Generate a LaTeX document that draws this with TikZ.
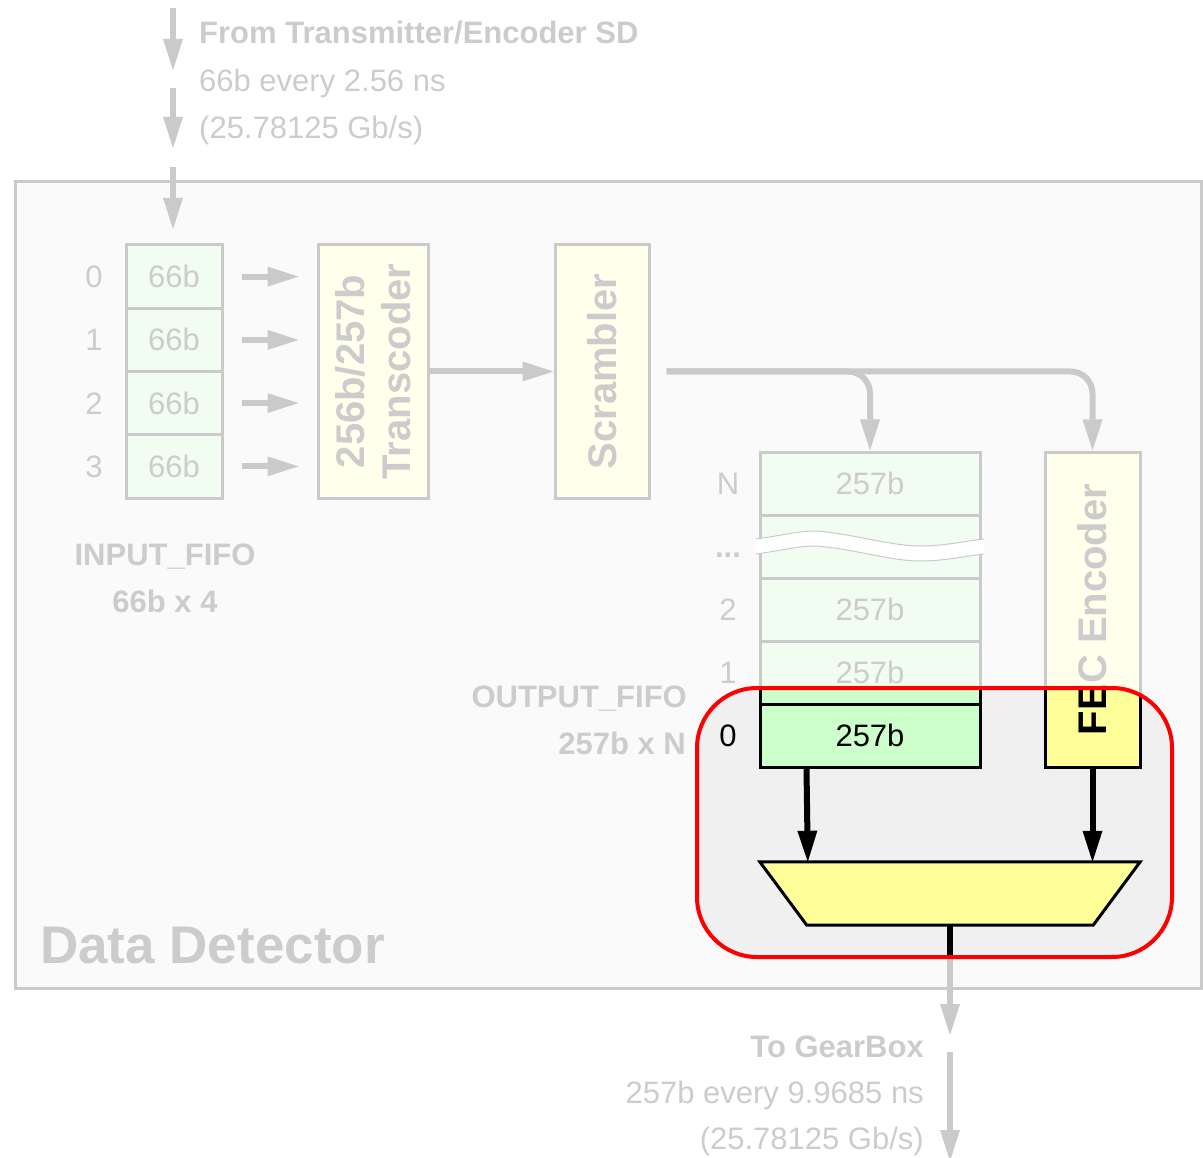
\documentclass[tikz,border=0pt]{standalone}
\usepackage{fontspec}
\setmainfont{Liberation Sans}
\usetikzlibrary{arrows.meta,calc}

\definecolor{fadeline}{RGB}{202,202,202}
\definecolor{fadetext}{RGB}{204,204,204}
\definecolor{panelbg}{RGB}{250,250,250}
\definecolor{fadegreen}{RGB}{242,253,242}
\definecolor{fadeyellow}{RGB}{255,255,235}
\definecolor{hlgreen}{RGB}{204,255,204}
\definecolor{hlyellow}{RGB}{255,255,153}
\definecolor{hlgrey}{RGB}{240,240,240}
\definecolor{hlred}{RGB}{255,0,0}

\newcommand\lblfont{\fontsize{31pt}{37pt}\selectfont}
\newcommand\boldlblfont{\fontsize{31pt}{37pt}\selectfont\bfseries}
\newcommand\blockfont{\fontsize{40pt}{46pt}\selectfont\bfseries}
\newcommand\ddtitlefont{\fontsize{53pt}{60pt}\selectfont\bfseries}

\begin{document}
\begin{tikzpicture}[x=1pt,y=-1pt,
  gtxt/.style={font=\lblfont, text=fadetext, inner sep=0pt},
  gbold/.style={font=\boldlblfont, text=fadetext, inner sep=0pt},
  idx/.style={font=\lblfont, text=fadetext, inner sep=0pt, text height=22pt, text depth=0pt},
  idxhl/.style={idx, text=black},
  incell/.style={draw=fadeline, line width=3pt, fill=fadegreen, minimum width=96pt,
    minimum height=63.25pt, inner sep=0pt, font=\lblfont, text=fadetext,
    text height=22pt, text depth=0pt},
  ocell/.style={incell, minimum width=220pt, minimum height=63pt},
  ocellhl/.style={ocell, draw=black, fill=hlgreen, text=black},
  fbox/.style={draw=fadeline, line width=3pt, fill=fadeyellow, inner sep=0pt},
  fboxhl/.style={fbox, draw=black, fill=hlyellow},
  rottxt/.style={font=\blockfont, text=fadetext, rotate=90, inner sep=0pt, align=center},
  rottxthl/.style={rottxt, text=black},
  gtip/.style={-{Triangle[length=31pt,width=20pt,line width=0pt]}},
  garrow/.style={draw=fadeline, line width=6pt, gtip},
  barrow/.style={draw=black, line width=6pt, gtip},
  breakedge/.style={draw=fadeline, line width=1pt}
]
\useasboundingbox (0,0) rectangle (1203,1158);

% ---------- Data Detector frame ----------
\node[draw=fadeline, line width=3pt, fill=panelbg, minimum width=1186pt,
      minimum height=806pt, inner sep=0pt] (panel) at (608,585) {};
\node[font=\ddtitlefont, text=fadetext, inner sep=0pt, anchor=base west] (ddtitle) at (40,963) {Data Detector};

% ---------- incoming stream ----------
\coordinate (ta) at (173,8);
\coordinate (tb) at (173,70);
\coordinate (tc1) at (173,88);
\coordinate (td) at (173,148);
\coordinate (te) at (173,167);
\coordinate (tf) at (173,229);
\draw[garrow] (ta) -- (tb);
\draw[garrow] (tc1) -- (td);
\draw[garrow] (te) -- (tf);
\node[gbold, anchor=base west] (src) at (199,44) {From Transmitter/Encoder SD};
\node[gtxt, anchor=base west] (srcrate) at (199,92) {66b every 2.56 ns};
\node[gtxt, anchor=base west] (srcbw) at (199,139) {(25.78125 Gb/s)};

% ---------- input FIFO ----------
\node[incell] (i0) at (174,276.6) {66b};
\node[incell] (i1) at (174,339.9) {66b};
\node[incell] (i2) at (174,403.1) {66b};
\node[incell] (i3) at (174,466.4) {66b};
\node[idx] (ni0) at (94,276.6) {0};
\node[idx] (ni1) at (94,339.9) {1};
\node[idx] (ni2) at (94,403.1) {2};
\node[idx] (ni3) at (94,466.4) {3};
\node[gbold, anchor=base] (inname) at (165,565) {INPUT\_FIFO};
\node[gbold, anchor=base] (insize) at (165,612) {66b x 4};

% ---------- transcoder and scrambler ----------
\node[fbox, minimum width=110pt, minimum height=253pt] (tc) at (373,371.5) {};
\node[rottxt] (tctext) at (tc.center) {256b/257b\\Transcoder};
\node[fbox, minimum width=94pt, minimum height=253pt] (sc) at (602,371.5) {};
\node[rottxt] (sctext) at (sc.center) {Scrambler};

\foreach \c in {i0,i1,i2,i3}
  \draw[garrow, shorten <=18pt, shorten >=18pt] (\c.east) -- (\c.east -| tc.west);
\draw[garrow] (tc.east) -- (sc.west);

% ---------- output FIFO ----------
\node[ocell] (oN) at (870,483.5) {257b};
\node[ocell] (og) at (870,546.5) {};
\node[ocell] (o2) at (870,609.5) {257b};
\node[ocell] (o1) at (870,672.5) {257b};
% break in the stack
\fill[white] (756,539) .. controls (785,535) and (798,531) .. (815,531)
  .. controls (850,533) and (890,546) .. (920,546)
  .. controls (945,546) and (965,541) .. (984,539)
  -- (984,554) .. controls (965,556) and (945,561) .. (920,561)
  .. controls (890,561) and (850,548) .. (815,546)
  .. controls (798,546) and (785,550) .. (756,554) -- cycle;
\draw[breakedge] (756,539) .. controls (785,535) and (798,531) .. (815,531)
  .. controls (850,533) and (890,546) .. (920,546)
  .. controls (945,546) and (965,541) .. (984,539);
\draw[breakedge] (756,554) .. controls (785,550) and (798,546) .. (815,546)
  .. controls (850,548) and (890,561) .. (920,561)
  .. controls (945,561) and (965,556) .. (984,554);
\node[idx] (noN) at (728,483.5) {N};
\node[idx, font=\boldlblfont] (nog) at (728,546.5) {...};
\node[idx] (no2) at (728,609.5) {2};
\node[idx] (no1) at (728,672.5) {1};
\node[gbold, anchor=base east] (outname) at (687,707) {OUTPUT\_FIFO};
\node[gbold, anchor=base east] (outsize) at (686,754) {257b x N};

% ---------- FEC encoder ----------
\node[fbox, minimum width=95pt, minimum height=315pt] (fec) at (1092.5,609.5) {};
\node[rottxt] (fectext) at (fec.center) {FEC Encoder};

\draw[garrow, rounded corners=22pt] ([xshift=16pt]sc.east) -| (oN.north);
\draw[garrow, rounded corners=22pt] ([xshift=16pt]sc.east) -| (fec.north);

% ---------- outgoing stream ----------
\coordinate (hlbot) at (950,957);
\coordinate (ga) at (950,1035);
\coordinate (gb) at (950,1052);
\coordinate (gc) at (950,1161);
\draw[garrow] (hlbot) -- (ga);
\draw[garrow] (gb) -- (gc);
\node[gbold, anchor=base east] (dst) at (924,1057) {To GearBox};
\node[gtxt, anchor=base east] (dstrate) at (924,1103) {257b every 9.9685 ns};
\node[gtxt, anchor=base east] (dstbw) at (924,1149) {(25.78125 Gb/s)};

% ---------- highlighted output stage ----------
\fill[hlgrey, rounded corners=60pt] (697,688) rectangle (1172,957);
\begin{scope}
  \clip[rounded corners=60pt] (697,688) rectangle (1172,957);
  \node[ocellhl] (o1hl) at (o1.center) {};
  \node[fboxhl, minimum width=95pt, minimum height=315pt] (fechl) at (fec.center) {};
  \node[rottxthl] (fectexthl) at (fec.center) {FEC Encoder};
  \node[ocellhl] (o0) at (870,735.5) {257b};
  \node[idxhl] (no0) at (728,735.5) {0};
  \node[minimum width=380pt, minimum height=63pt, inner sep=0pt] (mux) at (950,893.5) {};
  \draw[black, line width=3pt, fill=hlyellow] (mux.north west) -- (mux.north east)
    -- ([xshift=-47pt]mux.south east) -- ([xshift=47pt]mux.south west) -- cycle;
  \draw[barrow] ([xshift=48pt]o0.south west) -- ([xshift=48pt]mux.north west);
  \draw[barrow] (fechl.south) -- (fechl.south |- mux.north);
  \draw[black, line width=6pt] (mux.south) -- (hlbot);
\end{scope}
\draw[hlred, line width=4pt, rounded corners=60pt] (697,688) rectangle (1172,957);
\end{tikzpicture}
\end{document}
